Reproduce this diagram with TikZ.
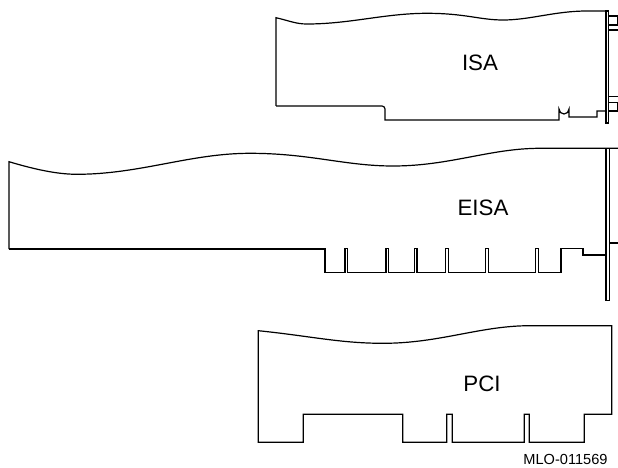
\documentclass[tikz,border=0pt]{standalone}
\usepackage{fontspec}
\setmainfont{Liberation Sans}
\usepackage{tikz}
\usetikzlibrary{calc}

\begin{document}
\begin{tikzpicture}[x=1pt,y=-1pt,line width=1.2pt,line join=miter,
  cardname/.style={font=\fontsize{22.3}{25}\selectfont},
  figcode/.style={font=\fontsize{14.6}{16}\selectfont,anchor=east}]
  \useasboundingbox (0,0) rectangle (618,468);

  % Draw the ISA card with its wavy top
  \draw (276,106) -- (276,17.7) .. controls (290,21) and (296,24) .. (307,24)
    .. controls (350,24) and (385,13.3) .. (427,13.3)
    .. controls (465,13.3) and (480,20) .. (503,20)
    .. controls (530,20) and (555,11) .. (587,11) -- (606,11);
  \draw (276,106) -- (382,106) to[out=0,in=90] (385,109) -- (385,120) -- (559,120) -- (559,109)
    arc[start angle=180,end angle=0,radius=5] -- (569,117) -- (597,117) -- (597,111) -- (606,111);
  % Draw the ISA bracket and its tabs
  \draw (606,11) rectangle (608.7,123);
  \draw (608.7,16) -- (617.3,16) -- (617.3,25) -- (608.7,25);
  \draw (608.7,30) -- (618,30);
  \draw (608.7,96.7) -- (618,96.7);
  \draw (608.7,102.3) -- (617.3,102.3) -- (617.3,111) -- (608.7,111);
  \node[cardname] (isa) at (480,63) {ISA};

  % Draw the EISA card, the slots go up from the edge
  \draw (9,249) -- (9,161.7) .. controls (30,168) and (55,174.3) .. (76.7,174.3)
    .. controls (140,174.3) and (190,153.3) .. (250,153.3)
    .. controls (310,153.3) and (345,166) .. (393,166)
    .. controls (450,166) and (490,148.3) .. (540,148.3) -- (618,148.3);
  \draw (9,249) -- (325,249) -- (325,272.7)
    \foreach \x in {345,386,414.3,445.7,485.7,535.7} {
      -- (\x,272.7) -- (\x,248.3) -- (\x+2.6,248.3) -- (\x+2.6,272.7) }
    -- (561,272.7) -- (561,248.3) -- (583,248.3) -- (583,255) -- (606,255);
  % Draw the EISA bracket
  \draw (606,148.3) rectangle (609.5,300.7);
  \draw (609.5,243) -- (618,243);
  \node[cardname] (eisa) at (483,208) {EISA};

  % Draw the PCI card
  \draw (258.3,442.3) -- (258.3,330.7) .. controls (310,336) and (340,343.3) .. (383,343.3)
    .. controls (440,343.3) and (480,325.7) .. (530,325.7) -- (611.7,325.7)
    -- (611.7,414.3) -- (584.3,414.3) -- (584.3,442.3) -- (529.3,442.3) -- (529.3,414.3)
    -- (524.3,414.3) -- (524.3,442.3) -- (452.3,442.3) -- (452.3,414.3) -- (446.7,414.3)
    -- (446.7,442.3) -- (402.7,442.3) -- (402.7,414.3) -- (303.3,414.3) -- (303.3,442.3) -- cycle;
  \node[cardname] (pci) at (482,384) {PCI};

  \node[figcode] (code) at (611.5,459) {MLO-011569};
\end{tikzpicture}
\end{document}
